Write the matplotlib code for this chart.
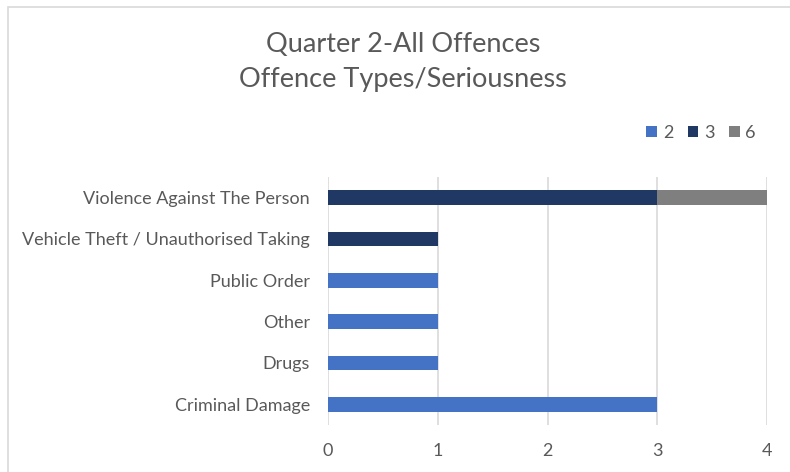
import numpy as np
import matplotlib.pyplot as plt
from matplotlib.patches import Rectangle

categories = ["Criminal Damage", "Drugs", "Other", "Public Order",
              "Vehicle Theft / Unauthorised Taking", "Violence Against The Person"]
series_names = ["2", "3", "6"]
vals_2 = [3, 1, 1, 1, 0, 0]
vals_3 = [0, 0, 0, 0, 1, 3]
vals_6 = [0, 0, 0, 0, 0, 1]
colors = ["#4472C4", "#203864", "#7F7F7F"]

plt.rcParams['font.family'] = ['Lato', 'DejaVu Sans']

fig = plt.figure(figsize=(7.9, 4.72), dpi=100)
ax = fig.add_axes([328 / 790, 1 - 425 / 472, 439 / 790, 248 / 472])

y = np.arange(len(categories))
left = np.zeros(len(categories))
for name, vals, c in zip(series_names, [vals_2, vals_3, vals_6], colors):
    ax.barh(y, vals, left=left, height=0.36, color=c, label=name, zorder=3)
    left += np.array(vals)

ax.set_xlim(0, 4)
ax.set_ylim(-0.5, len(categories) - 0.5)
ax.set_xticks(range(5))
ax.set_yticks(y)
ax.set_yticklabels(categories)
ax.tick_params(axis='both', length=0, labelsize=13, colors="#595959")
ax.tick_params(axis='x', pad=13)
ax.tick_params(axis='y', pad=13)
ax.grid(axis='x', color="#D9D9D9", linewidth=1.2, zorder=0)
for s in ax.spines.values():
    s.set_visible(False)

fig.text(403 / 790, 1 - 45 / 472, "Quarter 2-All Offences", ha='center', va='center',
         fontsize=19.5, color="#595959")
fig.text(403 / 790, 1 - 80 / 472, "Offence Types/Seriousness", ha='center', va='center',
         fontsize=19.5, color="#595959")

ax.legend(loc='center', bbox_to_anchor=(701 / 790, 1 - 133 / 472), bbox_transform=fig.transFigure,
          ncol=3, frameon=False, fontsize=13, handlelength=0.6, handleheight=0.6,
          handletextpad=0.3, columnspacing=0.8, labelcolor="#595959")

fig.patches.append(Rectangle((8 / 790, -0.1), 1.2, 1 - 7 / 472 + 0.1, transform=fig.transFigure,
                             fill=False, edgecolor="#D9D9D9", linewidth=1.2))

fig.savefig("out.png", dpi=100)
